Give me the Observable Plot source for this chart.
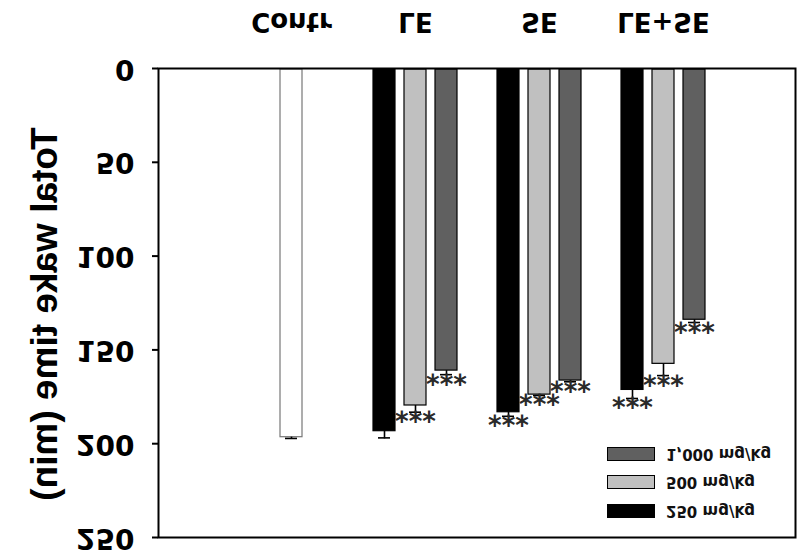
<!DOCTYPE html>
<html><head><meta charset="utf-8">
<script src="https://cdn.jsdelivr.net/npm/d3@7"></script>
<script src="https://cdn.jsdelivr.net/npm/@observablehq/plot@0.6"></script>
<style>
html,body{margin:0;padding:0;background:#fff;}
#wrap{position:relative;width:797px;height:554px;transform:scaleY(-1);overflow:hidden;}
#legend{position:absolute;left:607px;top:29px;font-family:"DejaVu Sans";font-weight:bold;font-size:15px;color:#111;}
.item{display:flex;align-items:center;height:28.5px;white-space:nowrap;}
.sw{width:46px;height:12px;border:1px solid #000;margin-right:11px;box-sizing:content-box;}
</style></head><body>
<div id="wrap"><div id="chart"></div><div id="legend"></div></div>
<script>
// ---- data ----
const groups = ["Contr", "LE", "SE", "LE+SE"];
const doses = ["250 mg/kg", "500 mg/kg", "1,000 mg/kg"];
const doseColors = ["#000000", "#c0c0c0", "#606060"];
const contrValue = 196;
const contrErr = 1.2;
const leValues = [192.8, 179.1, 160.5];
const leErrs = [4.1, 4.1, 2.7];
const leSig = [false, true, true];
const seValues = [182.7, 173.3, 165.8];
const seErrs = [2.7, 1.0, 1.2];
const seSig = [true, true, true];
const leseValues = [170.8, 156.9, 133.4];
const leseErrs = [5.1, 6.8, 2.0];
const leseSig = [true, true, true];
const yTicks = [0, 50, 100, 150, 200, 250];
const yTitle = "Total wake time (min)";
const sigLabel = "***";

// ---- build table ----
const treat = [
  ["LE", leValues, leErrs, leSig],
  ["SE", seValues, seErrs, seSig],
  ["LE+SE", leseValues, leseErrs, leseSig]
];
const rows = [{group: "Contr", slot: "Contr|1", dose: "control", value: contrValue, err: contrErr, sig: false}];
for (const [g, vals, errs, sig] of treat) {
  doses.forEach((d, j) => rows.push({group: g, slot: `${g}|${j}`, dose: d, value: vals[j], err: errs[j], sig: sig[j]}));
}
const slots = groups.flatMap((g, i) => [...(i ? [`gap${i}`] : []), ...doses.map((d, j) => `${g}|${j}`)]);
const ctrl = rows.filter(r => r.group === "Contr");
const trt = rows.filter(r => r.group !== "Contr");

const chart = Plot.plot({
  width: 797,
  height: 554,
  marginLeft: 158,
  marginRight: 2,
  marginTop: 16,
  marginBottom: 69,
  style: {fontFamily: "DejaVu Sans", background: "white"},
  x: {type: "band", domain: slots, paddingInner: 0.3, paddingOuter: 2.67, axis: null},
  y: {domain: [0, 250], axis: null},
  color: {domain: ["control", ...doses], range: ["#ffffff", ...doseColors]},
  marks: [
    Plot.barY(ctrl, {x: "slot", y: "value", fill: "dose", stroke: "#777", strokeWidth: 1.2}),
    Plot.barY(trt, {x: "slot", y: "value", fill: "dose", stroke: "#000", strokeWidth: 1.2}),
    Plot.ruleX(rows, {x: "slot", y1: "value", y2: d => d.value + d.err, stroke: "#000", strokeWidth: 1.6}),
    Plot.tickY(rows, {x: "slot", y: d => d.value + d.err, stroke: "#000", strokeWidth: 1.6, insetLeft: 5, insetRight: 5}),
    Plot.text(rows.filter(r => r.sig), {x: "slot", y: d => d.value + d.err, text: () => sigLabel, lineAnchor: "bottom", dy: 9, fontSize: 26, fontWeight: "bold", fill: "#2a2a2a"}),
    Plot.frame({stroke: "#000", strokeWidth: 2}),
    Plot.axisY({ticks: yTicks, tickSize: 6, tickPadding: 18, strokeWidth: 2, fontSize: 28, fontWeight: "bold", fill: "#000", label: null}),
    Plot.axisX({ticks: groups.map(g => `${g}|1`), tickFormat: s => s.split("|")[0], tickSize: 0, tickPadding: 37, fontSize: 26, fontWeight: "bold", fill: "#000", label: null}),
    Plot.text([yTitle], {frameAnchor: "left", textAnchor: "middle", lineAnchor: "middle", rotate: -90, dx: -113, dy: -11, fontSize: 37, fontWeight: "bold", fontFamily: "Liberation Sans", fill: "#000"})
  ]
});
document.getElementById("chart").appendChild(chart);

// ---- legend ----
const legend = document.getElementById("legend");
doses.forEach((d, i) => {
  const item = document.createElement("div");
  item.className = "item";
  const sw = document.createElement("div");
  sw.className = "sw";
  sw.style.background = doseColors[i];
  const lab = document.createElement("span");
  lab.textContent = d;
  item.appendChild(sw);
  item.appendChild(lab);
  legend.appendChild(item);
});
</script>
</body></html>
